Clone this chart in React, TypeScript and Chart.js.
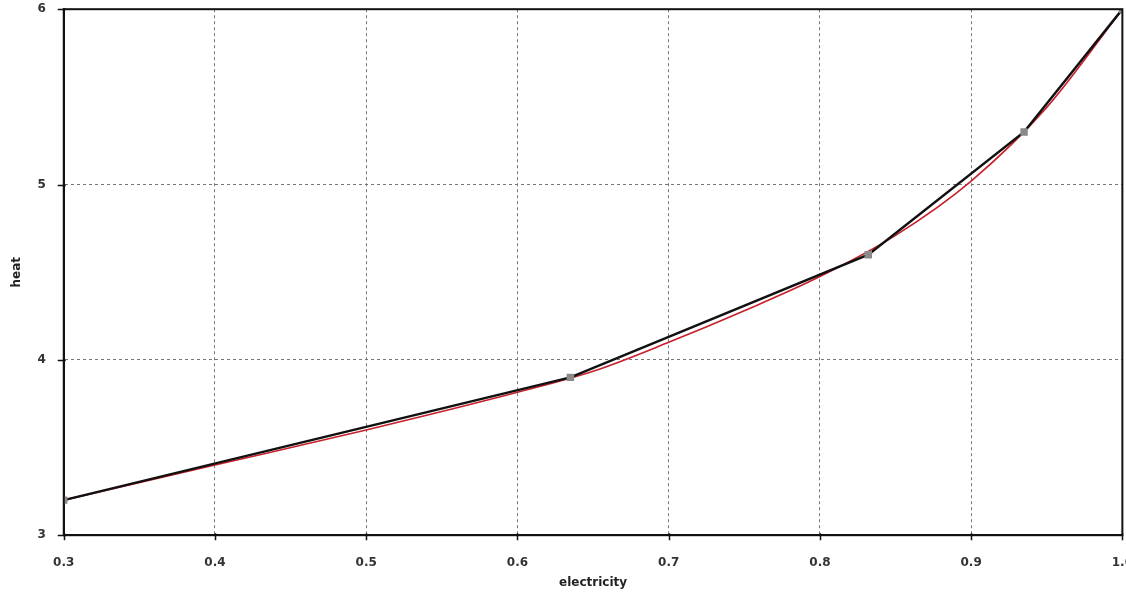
import React, { useEffect, useRef } from "react";
import { Chart, registerables } from "chart.js";

Chart.register(...registerables);

const xTicks = [0.3, 0.4, 0.5, 0.6, 0.7, 0.8, 0.9, 1.0];
const yTicks = [3, 4, 5, 6];

const blackX = [0.3, 0.635, 0.832, 0.935, 1.0];
const blackY = [3.2, 3.9, 4.6, 5.3, 6.0];

const redX = [0.3, 0.4, 0.5, 0.6, 0.65, 0.7, 0.75, 0.8, 0.85, 0.9, 0.95, 1.0];
const redY = [3.2, 3.4, 3.6, 3.815, 3.935, 4.1, 4.28, 4.475, 4.71, 5.02, 5.44, 6.0];

const frame = {
  id: "frame",
  afterDraw(chart: any) {
    const { ctx, chartArea } = chart;
    const xs = chart.scales.x;
    const ys = chart.scales.y;
    ctx.save();
    ctx.strokeStyle = "#111";
    ctx.lineWidth = 2;
    ctx.strokeRect(chartArea.left, chartArea.top, chartArea.right - chartArea.left, chartArea.bottom - chartArea.top);
    ctx.lineWidth = 1.5;
    ctx.beginPath();
    xTicks.forEach((v) => {
      const px = Math.round(xs.getPixelForValue(v)) + 0.5;
      ctx.moveTo(px, chartArea.bottom - 2);
      ctx.lineTo(px, chartArea.bottom + 5);
    });
    yTicks.forEach((v) => {
      const py = Math.round(ys.getPixelForValue(v)) + 0.5;
      ctx.moveTo(chartArea.left - 6, py);
      ctx.lineTo(chartArea.left + 2, py);
    });
    ctx.stroke();
    ctx.restore();
  },
};

export default function App() {
  const ref = useRef<HTMLCanvasElement | null>(null);
  useEffect(() => {
    if (!ref.current) return;
    const font = { family: "DejaVu Sans", size: 12, weight: "bold" as const };
    const chart = new Chart(ref.current, {
      type: "line",
      data: {
        datasets: [
          {
            label: "black",
            data: blackX.map((x, i) => ({ x, y: blackY[i] })),
            borderColor: "#111",
            borderWidth: 2.5,
            pointRadius: 3.5,
            pointBackgroundColor: "#8a8a8a",
            pointBorderColor: "#8a8a8a",
            pointStyle: "rect",
            tension: 0,
            order: 0,
          },
          {
            label: "red",
            data: redX.map((x, i) => ({ x, y: redY[i] })),
            borderColor: "#c8202a",
            borderWidth: 1.6,
            pointRadius: 0,
            cubicInterpolationMode: "monotone",
            order: 1,
          },
        ],
      },
      options: {
        animation: false,
        responsive: false,
        layout: { padding: { top: 0, left: 10, right: 0, bottom: 0 } },
        plugins: { legend: { display: false }, tooltip: { enabled: false } },
        scales: {
          x: {
            type: "linear",
            min: 0.3,
            max: 1.0,
            afterBuildTicks: (axis: any) => {
              axis.ticks = xTicks.map((v) => ({ value: v }));
            },
            ticks: {
              color: "#333",
              font,
              padding: 2,
              maxRotation: 0,
              callback: (v: any) => Number(v).toFixed(1),
            },
            grid: { color: "#777", tickLength: 18, drawTicks: true, tickColor: "rgba(0,0,0,0)", lineWidth: 1 },
            border: { color: "#111", width: 2, dash: [3, 3] },
            title: { display: true, text: "electricity", color: "#222", font: { family: "DejaVu Sans", size: 12, weight: "bold" }, padding: { top: 4, bottom: 6 } },
          },
          y: {
            type: "linear",
            min: 3,
            max: 6,
            afterBuildTicks: (axis: any) => {
              axis.ticks = yTicks.map((v) => ({ value: v }));
            },
            ticks: { color: "#333", font, padding: 2 },
            grid: { color: "#777", tickLength: 16, tickColor: "rgba(0,0,0,0)", lineWidth: 1 },
            border: { color: "#111", width: 2, dash: [3, 3] },
            title: { display: true, text: "heat", color: "#222", font: { family: "DejaVu Sans", size: 12, weight: "bold" }, padding: { top: 0, bottom: 11 } },
          },
        },
      },
      plugins: [frame],
    });
    return () => chart.destroy();
  }, []);
  return (
    <div style={{ position: "fixed", left: 0, top: 0, width: 1126, height: 596, overflow: "hidden", background: "#fff" }}>
      <canvas ref={ref} width={1135} height={596} style={{ width: 1135, height: 596, display: "block" }} />
    </div>
  );
}
